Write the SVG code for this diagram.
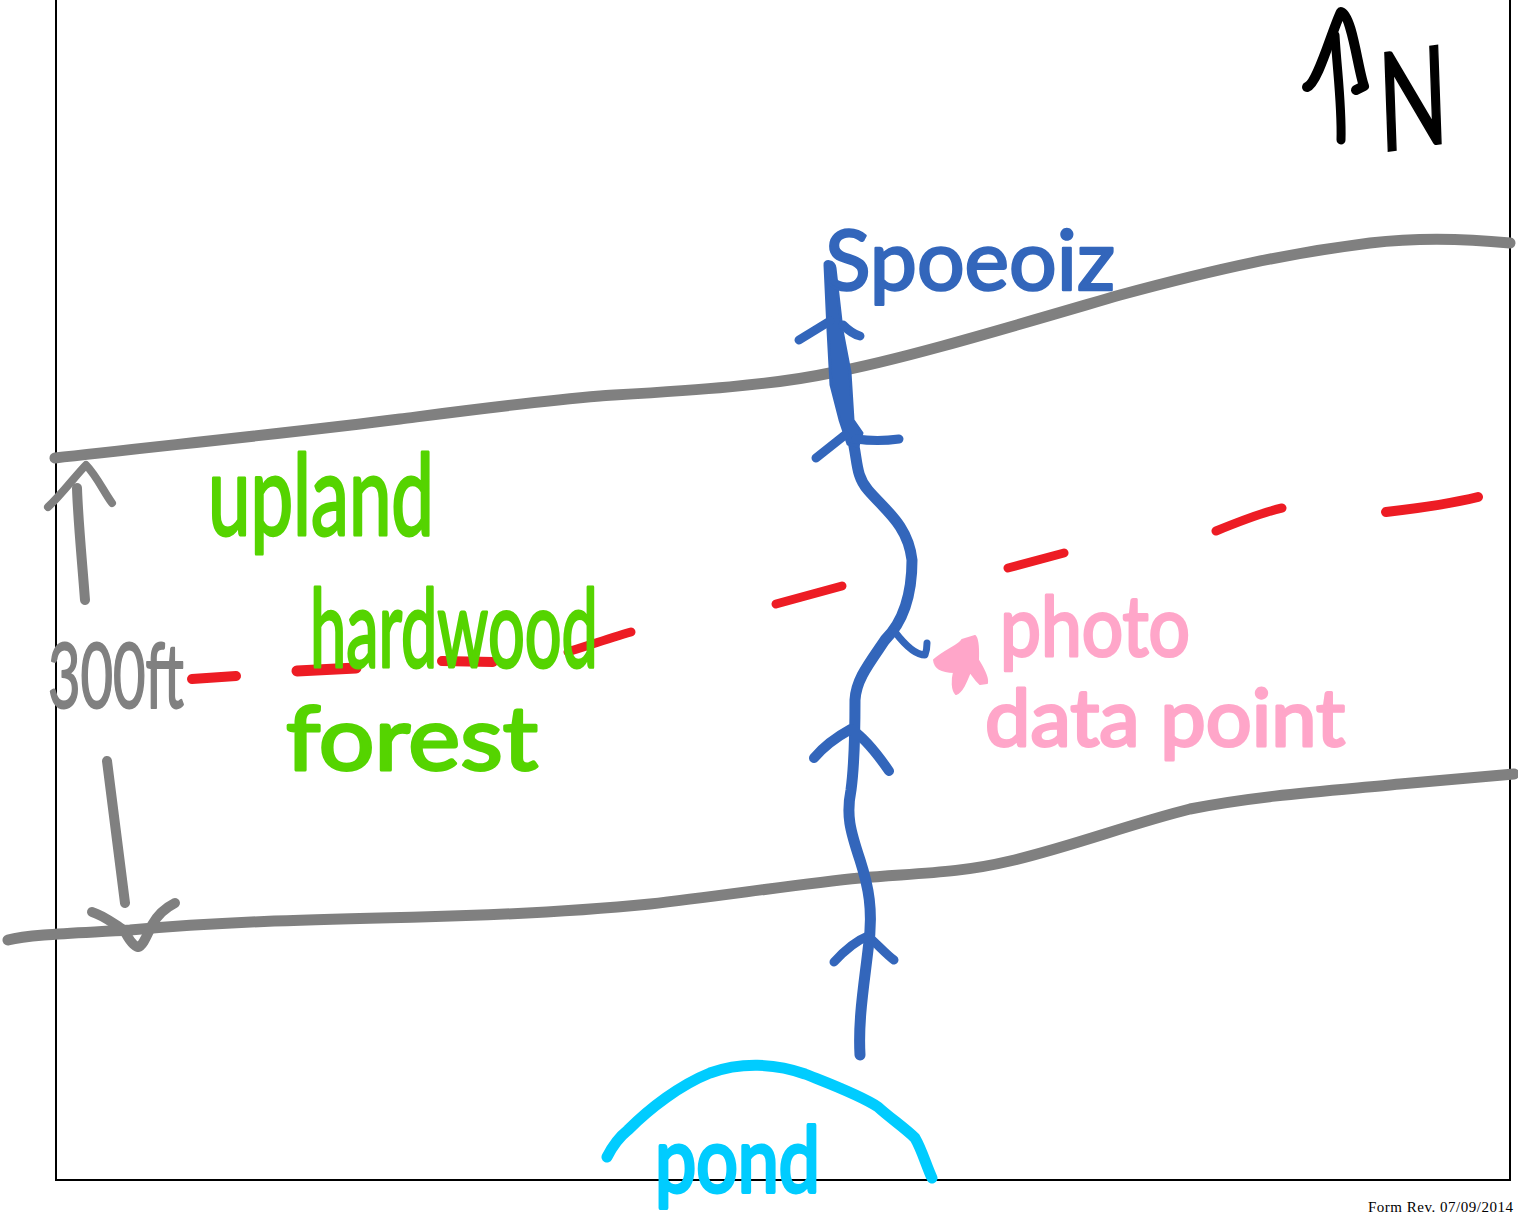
<svg xmlns="http://www.w3.org/2000/svg" width="1518" height="1215" viewBox="0 0 1518 1215">
<style>
.s{fill:none;stroke-linecap:round;stroke-linejoin:round}
.gray{stroke:#808080}
.red{stroke:#ed1c24}
.blue{stroke:#3366bb}
.hand{font-family:"Lato","Noto Sans",sans-serif;stroke-linejoin:round}
.g{fill:#55d400;stroke:#55d400;stroke-width:3}
.p{fill:#ffa6c9;stroke:#ffa6c9;stroke-width:3}
</style>
<rect width="1518" height="1215" fill="#fff"/>
<g id="frame"><path d="M56 0V1180H1510V0" fill="none" stroke="#000" stroke-width="2"/></g>
<g id="boundaries">
<path class="s gray" stroke-width="11" d="M55 458C140 448 300 432 400 419C470 410 530 402 600 396C680 391 770 386 830 373C900 360 1000 330 1120 295C1220 268 1290 253 1370 243C1420 237 1470 239 1510 243"/>
<path class="s gray" stroke-width="11" d="M8 940C30 934 80 933 130 930C230 921 330 919 420 917C500 915 580 911 650 904C720 896 800 884 860 878C920 873 960 873 1010 861C1070 847 1130 824 1190 809C1260 795 1340 790 1400 784L1514 774"/>
</g>
<g id="dimension">
<path class="s gray" stroke-width="10" d="M85 600C82 560 78 520 77 488"/>
<path class="s gray" stroke-width="8" d="M48 507C62 494 76 475 86 465C96 475 104 492 112 503"/>
<path class="s gray" stroke-width="10" d="M107 761L125 903"/>
<path class="s gray" stroke-width="10" d="M92 912C105 916 115 925 124 930C128 938 133 946 138 947C143 946 147 935 152 925C158 914 165 908 175 903"/>
<text class="hand" x="48" y="708" font-size="92" textLength="136" lengthAdjust="spacingAndGlyphs" fill="#808080" stroke="#808080" stroke-width="2">300ft</text>
</g>
<g id="centerline">
<path class="s red" stroke-width="10" d="M192 679L236 676"/>
<path class="s red" stroke-width="11" d="M297 671L356 668"/>
<path class="s red" stroke-width="10" d="M442 661L493 662"/>
<path class="s red" stroke-width="9" d="M568 652C590 645 610 638 631 632"/>
<path class="s red" stroke-width="9" d="M776 604L842 586"/>
<path class="s red" stroke-width="9" d="M1008 568L1064 553"/>
<path class="s red" stroke-width="9" d="M1216 531C1238 522 1260 513 1282 508"/>
<path class="s red" stroke-width="10" d="M1386 512C1420 508 1450 504 1478 497"/>
</g>
<g id="stream">
<path class="s blue" stroke-width="11" d="M860 1055C858 1020 864 985 868 950C874 910 868 885 860 860C850 830 846 815 851 790C855 760 855 725 855 700C856 680 868 665 885 640C905 620 912 590 912 560C908 525 885 510 868 490C855 475 858 460 852 437"/>
<path d="M825 265C824 260 834 260 835 268L842 330L850 372L853 420L862 433L858 446L848 444L840 420L831 385L828 330Z" fill="#3366bb" stroke="#3366bb" stroke-width="3" stroke-linejoin="round"/>
<path class="s blue" stroke-width="9" d="M799 340L830 321M843 325C850 332 856 335 860 336"/>
<path class="s blue" stroke-width="9" d="M816 458L845 435M856 439C870 441 885 441 899 439"/>
<path class="s blue" stroke-width="7" d="M895 632C905 645 915 655 925 655C927 650 927 647 927 643"/>
<path class="s blue" stroke-width="10" d="M814 758C825 745 840 735 851 729C865 738 878 755 889 771"/>
<path class="s blue" stroke-width="9" d="M834 962C845 950 858 940 868 936C878 945 887 955 894 960"/>
<text x="825" y="290" font-family="Lato,'Noto Sans',sans-serif" font-size="84" textLength="290" lengthAdjust="spacingAndGlyphs" fill="#3366bb" stroke="#3366bb" stroke-width="2.5" stroke-linejoin="round">Spoeoiz</text>
</g>
<g id="pond">
<path class="s" stroke="#00ccff" stroke-width="11" d="M607 1157C612 1147 618 1138 628 1130C650 1108 680 1085 710 1073C740 1062 775 1063 805 1074C830 1084 860 1095 878 1107C890 1118 905 1128 915 1138C922 1150 926 1165 932 1178"/>
<text x="655" y="1192" font-family="Lato,'Noto Sans',sans-serif" font-size="92" textLength="165" lengthAdjust="spacingAndGlyphs" fill="#00ccff" stroke="#00ccff" stroke-width="4" stroke-linejoin="round">pond</text>
</g>
<g id="forest-label">
<text class="hand g" x="208" y="535" font-size="112" textLength="226" lengthAdjust="spacingAndGlyphs">upland</text>
<text class="hand g" x="310" y="667" font-size="108" textLength="288" lengthAdjust="spacingAndGlyphs">hardwood</text>
<text class="hand g" x="286" y="770" font-size="90" textLength="252" lengthAdjust="spacingAndGlyphs">forest</text>
</g>
<g id="photo-point">
<path d="M934 660C945 650 960 645 962 640L975 636C979 640 978 655 978 660C983 668 988 678 987 683L980 684C975 680 973 675 970 672C966 682 962 692 956 694C952 690 952 680 954 672C945 672 935 670 934 660Z" fill="#ffa6c9" stroke="#ffa6c9" stroke-width="2" stroke-linejoin="round"/>
<text class="hand p" x="1000" y="656" font-size="84" textLength="190" lengthAdjust="spacingAndGlyphs">photo</text>
<text class="hand p" x="985" y="746" font-size="80" textLength="360" lengthAdjust="spacingAndGlyphs">data point</text>
</g>
<g id="north">
<path class="s" stroke="#000" stroke-width="9" d="M1335 35C1337 70 1342 105 1341 140"/>
<path class="s" stroke="#000" stroke-width="10" d="M1307 87C1318 83 1332 30 1341 12C1352 15 1358 70 1364 86L1356 90"/>
<text transform="translate(1380 152) rotate(-8) skewX(-6)" x="0" y="0" font-family="Lato,'Noto Sans',sans-serif" font-size="136" textLength="70" lengthAdjust="spacingAndGlyphs" fill="#000" stroke="#000" stroke-width="2">N</text>
</g>
<text x="1368" y="1212" font-family="'Liberation Serif',serif" font-size="15" textLength="145" fill="#000">Form Rev. 07/09/2014</text>
</svg>
